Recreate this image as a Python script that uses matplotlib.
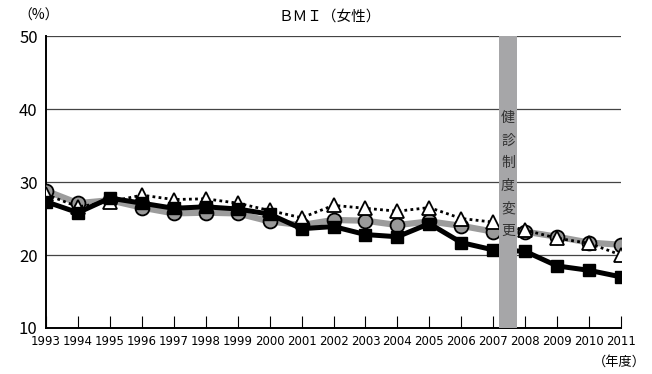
import matplotlib
matplotlib.use("Agg")
import matplotlib.pyplot as plt

plt.rcParams['font.family'] = ['Noto Sans CJK JP', 'DejaVu Sans']

years = list(range(1993, 2012))
year_labels = [str(y) for y in years]

# Three survey series (%), 1993-2011
series_circle = [28.8, 27.1, 27.5, 26.5, 25.7, 25.8, 25.7, 24.6, 24.1, 24.8,
                 24.7, 24.1, 24.6, 24.0, 23.2, 23.2, 22.5, 21.7, 21.4]
series_square = [27.3, 25.8, 27.8, 27.1, 26.4, 26.6, 26.3, 25.6, 23.6, 23.9,
                 22.8, 22.5, 24.3, 21.7, 20.7, 20.5, 18.5, 17.9, 17.0]
series_triangle = [28.3, 26.6, 27.3, 28.2, 27.6, 27.7, 27.1, 26.1, 25.1, 26.8,
                   26.4, 26.0, 26.5, 25.0, 24.5, 23.4, 22.3, 21.6, 20.0]

y_ticks = [10, 20, 30, 40, 50]
band_start, band_end = 2007.18, 2007.74
band_text = "健診制度変更"

fig = plt.figure(figsize=(6.52, 3.74), dpi=100)
ax = fig.add_axes([0.0706, 0.123, 0.8819, 0.7807])

ax.set_xlim(1993, 2011)
ax.set_ylim(10, 50)

# horizontal reference lines
for v in y_ticks[1:]:
    ax.axhline(v, color='#444444', lw=0.9, zorder=1)

ax.plot(years, series_circle, color='#9c9c9c', lw=4.5, marker='o', ms=10,
        mfc='#999999', mec='black', mew=1.3, zorder=3)
ax.plot(years, series_triangle, color='black', lw=2.0, ls=(0, (1, 1.2)),
        marker='^', ms=10, mfc='white', mec='black', mew=1.3, zorder=4)
ax.plot(years, series_square, color='black', lw=3.6, marker='s', ms=8.5,
        mfc='black', mec='black', zorder=5)

ax.axvspan(band_start, band_end, color='#a6a6a8', lw=0, zorder=6)
for i, ch in enumerate(band_text):
    ax.text((band_start + band_end) / 2, 38.8 - i * 3.1, ch, ha='center',
            va='center', fontsize=10, color='#333333', zorder=7)

for side in ['top', 'right']:
    ax.spines[side].set_visible(False)
ax.spines['left'].set_linewidth(1.4)
ax.spines['bottom'].set_linewidth(1.4)

ax.set_yticks(y_ticks)
ax.set_yticklabels([str(v) for v in y_ticks], fontsize=12)
ax.tick_params(axis='y', length=0, pad=6)
ax.set_xticks(years)
ax.set_xticklabels(year_labels, fontsize=8.5,
                   family=['Liberation Sans Narrow', 'DejaVu Sans'])
ax.tick_params(axis='x', direction='in', length=9, width=0.8, pad=5)

fig.text(0.505, 0.955, "ＢＭＩ（女性）", ha='center', va='center', fontsize=10.5)
fig.text(0.06, 0.958, "（%）", ha='center', va='center', fontsize=10)
fig.text(0.95, 0.032, "（年度）", ha='center', va='center', fontsize=9.5)

fig.savefig("out.png", dpi=100)
